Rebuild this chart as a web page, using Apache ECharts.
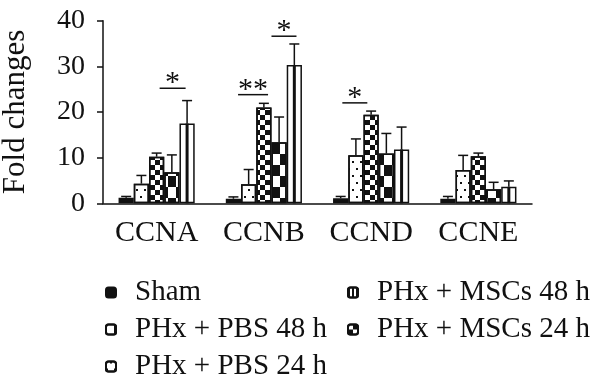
<!DOCTYPE html>
<html><head><meta charset="utf-8">
<script src="https://cdn.jsdelivr.net/npm/echarts@6/dist/echarts.min.js"></script>
<style>html,body{margin:0;padding:0;background:#fff}#c{width:600px;height:389px}</style>
</head><body><div id="c"></div>
<script>
// ---- data ----
const categories = ['CCNA', 'CCNB', 'CCND', 'CCNE'];
const seriesNames = ['Sham', 'PHx + PBS 24 h', 'PHx + MSCs 24 h', 'PHx + PBS 48 h', 'PHx + MSCs 48 h'];
const legendCol1 = ['Sham', 'PHx + PBS 48 h', 'PHx + PBS 24 h'];
const legendCol2 = ['PHx + MSCs 48 h', 'PHx + MSCs 24 h'];
const shamMean  = [1.2, 1.0, 1.1, 1.0];
const shamErr   = [0.3, 0.4, 0.4, 0.5];
const pbs24Mean = [4.3, 4.2, 10.5, 7.3];
const pbs24Err  = [1.8, 3.2, 3.6, 3.2];
const msc24Mean = [10.2, 21.0, 19.4, 10.3];
const msc24Err  = [0.8, 0.9, 0.8, 0.7];
const pbs48Mean = [6.8, 13.4, 10.9, 3.1];
const pbs48Err  = [3.8, 5.5, 4.4, 1.5];
const msc48Mean = [17.5, 30.3, 11.8, 3.6];
const msc48Err  = [5.0, 4.6, 4.9, 1.3];
const yTicks = [0, 10, 20, 30, 40];
const sigLabels   = ['*', '**', '*', '*'];
const sigCategory = [0, 1, 1, 2];
const sigLevel    = [25.2, 23.8, 36.6, 22.0];

// ---- layout / style ----
const sigBarPos   = [3.05, 1.29, 3.32, 0.93]; // position in bar units within group
const sigLineLen  = [26, 30, 25, 25];
const GAP = 0.29;
const INK = '#111';
const FONT = '"Liberation Serif", "DejaVu Serif", serif';

const means = [shamMean, pbs24Mean, msc24Mean, pbs48Mean, msc48Mean];
const errs  = [shamErr, pbs24Err, msc24Err, pbs48Err, msc48Err];

const decals = [
  null,
  { symbol: 'rect', symbolSize: 1, color: INK, dashArrayX: [[2, 6], [0, 4, 2, 2]], dashArrayY: [2, 5] },
  { symbol: 'rect', symbolSize: 1, color: INK, dashArrayX: [[5, 5], [0, 5, 5, 0]], dashArrayY: [5, 0] },
  { symbol: 'rect', symbolSize: 1, color: INK, dashArrayX: [[8, 8], [0, 8, 8, 0]], dashArrayY: [11, 0] },
  null
];
const fills = [INK, '#fff', '#fff', '#fff', '#fff'];

const barSeries = seriesNames.map((n, k) => ({
  name: n, type: 'bar', data: means[k],
  barGap: '0%', barCategoryGap: (GAP * 100) + '%',
  itemStyle: Object.assign({ color: fills[k], borderColor: INK, borderWidth: 1.5 }, decals[k] ? { decal: decals[k] } : {}),
  emphasis: { disabled: true }, z: 2
}));

const errData = [];
means.forEach((arr, k) => arr.forEach((v, i) => errData.push([i, v, errs[k][i], k])));

function barX(api, cat, pos) {
  const band = api.size([1, 0])[0];
  const groupW = band * (1 - GAP);
  const bw = groupW / seriesNames.length;
  return api.coord([cat, 0])[0] - groupW / 2 + (pos + 0.5) * bw;
}

const errSeries = {
  type: 'custom', silent: true, z: 5, encode: { x: 0, y: 1 }, data: errData,
  renderItem(params, api) {
    const cat = api.value(0), v = api.value(1), e = api.value(2), k = api.value(3);
    const cx = barX(api, cat, k);
    const y0 = api.coord([cat, 0])[1], yv = api.coord([cat, v])[1], ye = api.coord([cat, v + e])[1];
    const ch = [];
    if (k === 4) ch.push({ type: 'rect', shape: { x: cx - 1.5, y: yv, width: 3, height: y0 - yv }, style: { fill: INK } });
    ch.push({ type: 'line', shape: { x1: cx, y1: yv, x2: cx, y2: ye }, style: { stroke: INK, lineWidth: 1.5 } });
    ch.push({ type: 'line', shape: { x1: cx - 5, y1: ye, x2: cx + 5, y2: ye }, style: { stroke: INK, lineWidth: 1.5 } });
    return { type: 'group', children: ch };
  }
};

const sigData = sigLabels.map((l, i) => [sigCategory[i], sigLevel[i], i]);
const sigSeries = {
  type: 'custom', silent: true, z: 6, encode: { x: 0, y: 1 }, data: sigData,
  renderItem(params, api) {
    const cat = api.value(0), lv = api.value(1), i = api.value(2);
    const cx = barX(api, cat, sigBarPos[i]);
    const y = api.coord([cat, lv])[1];
    const h = sigLineLen[i] / 2;
    return { type: 'group', children: [
      { type: 'line', shape: { x1: cx - h, y1: y, x2: cx + h, y2: y }, style: { stroke: INK, lineWidth: 1.5 } },
      { type: 'text', style: { text: sigLabels[i], x: cx, y: y - 5, align: 'center', verticalAlign: 'middle', fill: INK, font: '30px ' + FONT } }
    ] };
  }
};

function legend(data, left) {
  return {
    orient: 'vertical', left: left, top: 278, padding: 0, itemGap: 8,
    itemWidth: 10, itemHeight: 10, selectedMode: false,
    data: data.map(n => n === 'PHx + MSCs 48 h'
      ? { name: n, itemStyle: { decal: { symbol: 'rect', symbolSize: 1, color: INK, dashArrayX: [1.5, 1.5], dashArrayY: [10, 0] } } }
      : n),
    textStyle: { fontFamily: FONT, fontSize: 29, color: INK, padding: [0, 0, 0, 14] }
  };
}

const chart = echarts.init(document.getElementById('c'), null, { renderer: 'canvas' });
chart.setOption({
  animation: false,
  backgroundColor: '#fff',
  grid: { left: 103, right: 68, top: 20.7, bottom: 185.7, containLabel: false, outerBoundsMode: 'none' },
  xAxis: {
    type: 'category', data: categories,
    axisLine: { lineStyle: { color: INK, width: 1.5 } },
    axisTick: { length: 7, lineStyle: { color: INK, width: 1.5 } },
    axisLabel: { interval: 0, color: INK, fontFamily: FONT, fontSize: 30, margin: 15 }
  },
  yAxis: {
    type: 'value', min: yTicks[0], max: yTicks[yTicks.length - 1], interval: yTicks[1] - yTicks[0],
    name: 'Fold changes', nameLocation: 'middle', nameGap: 72,
    nameTextStyle: { color: INK, fontFamily: FONT, fontSize: 31 },
    axisLine: { show: true, lineStyle: { color: INK, width: 1.5 } },
    axisTick: { show: true, length: 6, lineStyle: { color: INK, width: 1.5 } },
    axisLabel: { color: INK, fontFamily: FONT, fontSize: 28, margin: 18 },
    splitLine: { show: false }
  },
  legend: [legend(legendCol1, 105), legend(legendCol2, 347)],
  series: barSeries.concat([errSeries, sigSeries])
});
</script></body></html>
